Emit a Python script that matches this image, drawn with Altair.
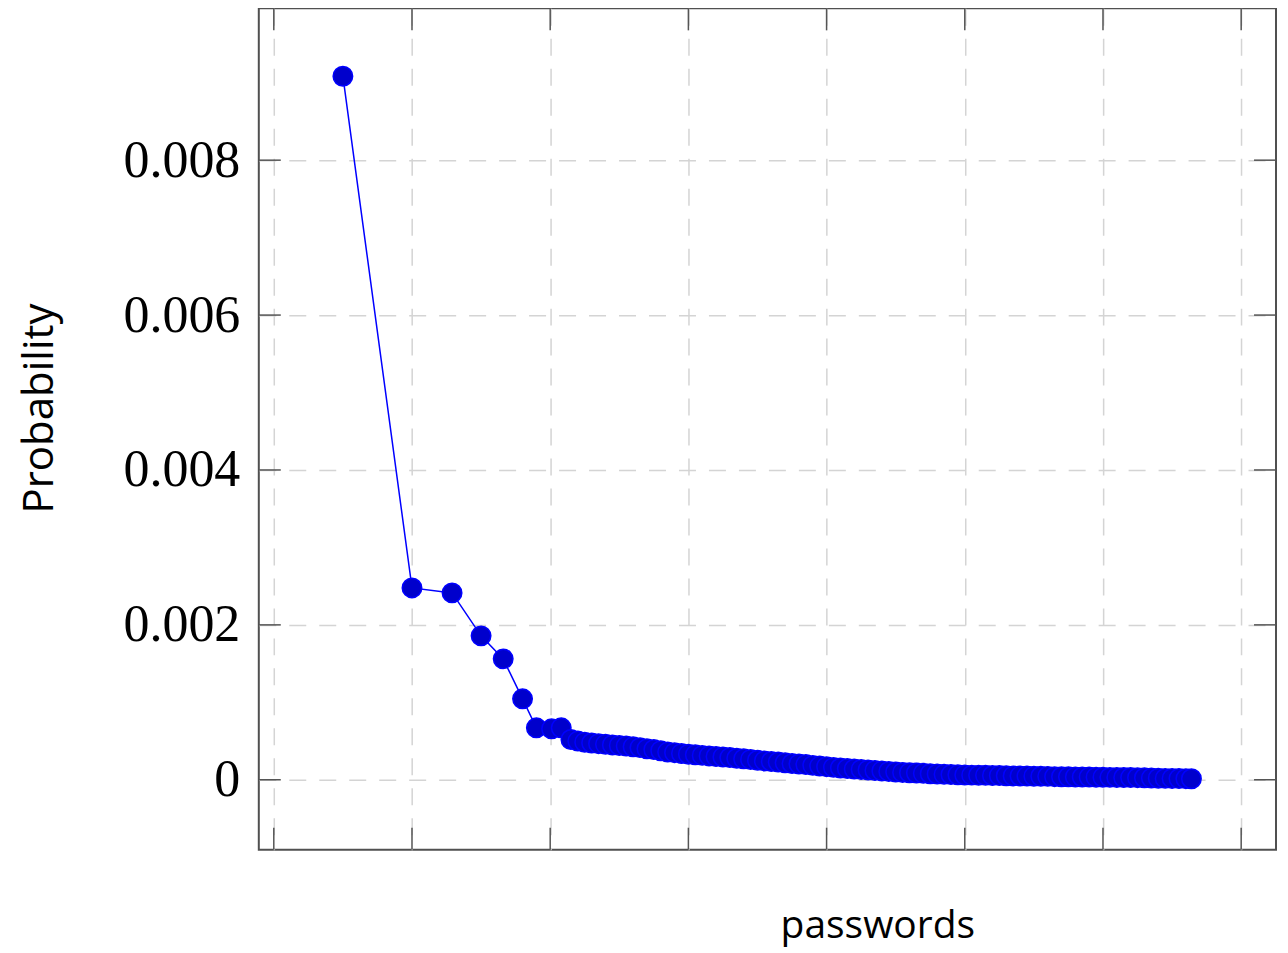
import altair as alt
import pandas as pd

# password rank (arbitrary rank units; grid every 100)
rank = [50, 100, 129, 150, 166, 180, 190, 201, 208,
        215, 220, 225, 230, 235, 240, 245, 250, 255, 260, 265, 270, 275, 280, 285,
        290, 295, 300, 305, 310, 315, 320, 325, 330, 335, 340, 345, 350, 355, 360,
        365, 370, 375, 380, 385, 390, 395, 400, 405, 410, 415, 420, 425, 430, 435,
        440, 445, 450, 455, 460, 465, 470, 475, 480, 485, 490, 495, 500, 505, 510,
        515, 520, 525, 530, 535, 540, 545, 550, 555, 560, 565, 570, 575, 580, 585,
        590, 595, 600, 605, 610, 615, 620, 625, 630, 635, 640, 645, 650, 655, 660, 664]

probability = [0.009084, 0.002477, 0.002413, 0.001858, 0.001561, 0.001045, 0.000671, 0.000658, 0.000671,
               0.000520, 0.000500, 0.000485, 0.000475, 0.000466, 0.000458, 0.000450, 0.000443, 0.000435,
               0.000425, 0.000415, 0.000400, 0.000390, 0.000375, 0.000358,
               0.000350, 0.000340, 0.000330, 0.000322, 0.000315, 0.000308, 0.000300, 0.000295, 0.000287,
               0.000278, 0.000270, 0.000262, 0.000252, 0.000243, 0.000236,
               0.000228, 0.000219, 0.000210, 0.000204, 0.000196, 0.000186, 0.000177, 0.000169, 0.000160,
               0.000152, 0.000145, 0.000138, 0.000133, 0.000127, 0.000120,
               0.000114, 0.000108, 0.000100, 0.000095, 0.000091, 0.000087, 0.000083, 0.000078, 0.000074,
               0.000070, 0.000067, 0.000064, 0.000062, 0.000060, 0.000058,
               0.000057, 0.000055, 0.000054, 0.000052, 0.000050, 0.000049, 0.000048, 0.000046, 0.000045,
               0.000044, 0.000040, 0.000039, 0.000038, 0.000037, 0.000036,
               0.000035, 0.000034, 0.000033, 0.000031, 0.000030, 0.000029, 0.000028, 0.000027, 0.000026,
               0.000022, 0.000020, 0.000018, 0.000017, 0.000015, 0.000014, 0.000013]

x_ticks = [0, 100, 200, 300, 400, 500, 600, 700]
y_ticks = [0, 0.002, 0.004, 0.006, 0.008]

W, H = 1018, 842
TICK = 22

df = pd.DataFrame({"rank": rank, "p": probability})
xt = pd.DataFrame({"rank": x_ticks})
yt = pd.DataFrame({"p": y_ticks})

xscale = alt.Scale(domain=[-10.85, 725.2], nice=False, zero=False)
yscale = alt.Scale(domain=[-0.000903, 0.00996], nice=False, zero=False)

grid_common = dict(grid=True, gridColor="#d4d4d4", gridWidth=1.5, gridDash=[17, 13],
                   ticks=False, tickSize=0, domain=False)

x_axis = alt.Axis(values=x_ticks, labels=False, title="passwords",
                  titleFont="Open Sans", titleFontSize=39, titleFontWeight="normal",
                  titleColor="black", titleX=619, titleY=88, titleAlign="center",
                  titleBaseline="alphabetic", titleAnchor="start", **grid_common)
y_axis = alt.Axis(values=y_ticks, format=".3~f", labelFont="Liberation Serif",
                  labelFontSize=52, labelColor="black", labelPadding=19,
                  title="Probability", titleFont="Open Sans", titleFontSize=42,
                  titleFontWeight="normal", titleColor="black", titleAngle=270,
                  titleX=-206, titleY=400, titleAlign="center",
                  titleBaseline="alphabetic", titleAnchor="start", **grid_common)

X = alt.X("rank:Q", scale=xscale, axis=x_axis, title="passwords")
Y = alt.Y("p:Q", scale=yscale, axis=y_axis, title="Probability")

base = alt.Chart(df).encode(x=X, y=Y)

line = base.mark_line(color="#0000ff", strokeWidth=1.5)
pts = base.mark_point(filled=True, shape="circle", size=380, fill="#0000cc",
                      stroke="#0000ff", strokeWidth=1.5, opacity=1)

tick_color = "#555555"
ytl = alt.Chart(yt).mark_rule(color=tick_color, strokeWidth=1.5).encode(
    y=Y, x=alt.value(0), x2=alt.value(TICK))
ytr = alt.Chart(yt).mark_rule(color=tick_color, strokeWidth=1.5).encode(
    y=Y, x=alt.value(W - TICK), x2=alt.value(W))
xtb = alt.Chart(xt).mark_rule(color=tick_color, strokeWidth=1.5).encode(
    x=X, y=alt.value(H - TICK), y2=alt.value(H))
xtt = alt.Chart(xt).mark_rule(color=tick_color, strokeWidth=1.5).encode(
    x=X, y=alt.value(0), y2=alt.value(TICK))

chart = alt.layer(line, pts, ytl, ytr, xtb, xtt).properties(
    width=W, height=H,
    background="white",
    autosize=alt.AutoSizeParams(type="none"),
    padding={"left": 251, "top": 0, "right": 4, "bottom": 102},
).configure_view(stroke="#505050", strokeWidth=2)

chart.save("out.html", embed_options={"renderer": "svg", "actions": False})
